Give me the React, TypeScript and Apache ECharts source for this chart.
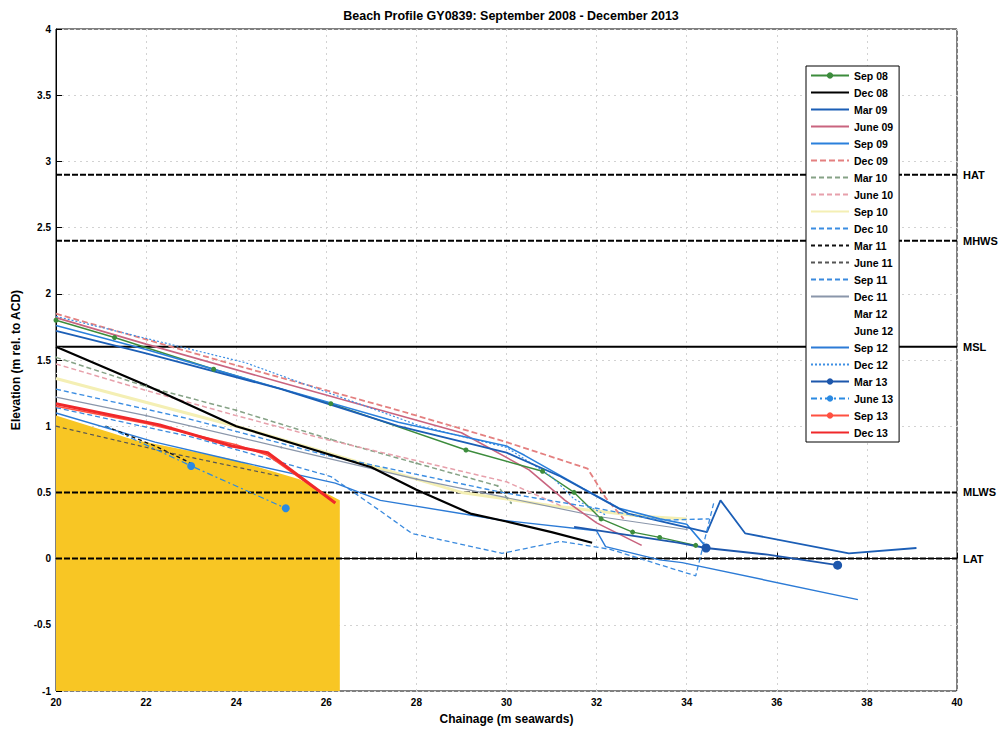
import React, { useEffect, useRef } from 'react';
import * as echarts from 'echarts';

// ---- Data (chainage m, elevation m rel. to ACD) ----
const SEP08 = [[20, 1.8], [21.3, 1.67], [23.5, 1.43], [26.1, 1.17], [29.1, 0.82], [30.8, 0.66], [31.5, 0.5], [32.1, 0.3], [32.8, 0.2], [33.4, 0.16], [34.2, 0.1]];
const DEC08 = [[20, 1.6], [22, 1.31], [24, 1.0], [27, 0.69], [28, 0.52], [29.2, 0.34], [30, 0.28], [31, 0.2], [31.9, 0.12]];
const MAR09 = [[20, 1.72], [22, 1.55], [25, 1.28], [27.6, 1.0], [30, 0.8], [31.2, 0.62], [32.7, 0.34], [34.45, 0.2], [34.75, 0.44], [35.3, 0.19], [37.6, 0.04], [39.1, 0.08]];
const JUN09 = [[20, 1.82], [22, 1.62], [25, 1.33], [29, 0.95], [30.5, 0.67], [31.3, 0.44], [32, 0.27], [33, 0.1]];
const SEP09 = [[20, 1.76], [22, 1.58], [24, 1.38], [27.6, 1.03], [30, 0.85], [30.4, 0.78], [31.7, 0.53], [32.5, 0.38], [33.4, 0.3], [34, 0.26], [34.4, 0.1]];
const DEC09 = [[20, 1.85], [24, 1.46], [27.6, 1.12], [30, 0.88], [31.8, 0.68], [32.2, 0.46], [32.6, 0.3]];
const MAR10 = [[20, 1.52], [22, 1.3], [24, 1.12], [26.1, 0.9], [28, 0.72], [29.8, 0.55], [30.1, 0.42]];
const JUN10 = [[20, 1.47], [22, 1.27], [24, 1.08], [26, 0.9], [28, 0.74], [30, 0.58], [31.2, 0.4]];
const SEP10 = [[20, 1.36], [24, 1.0], [27, 0.7], [29, 0.5], [31, 0.4], [33, 0.32], [34, 0.3]];
const DEC10 = [[20, 1.28], [22.9, 1.06], [26, 0.78], [29.9, 0.5], [32, 0.38], [33.4, 0.29], [34.5, 0.3]];
const MAR11 = [[21.1, 1.0], [22.2, 0.85], [23, 0.72]];
const JUN11 = [[20, 1.0], [22.5, 0.8], [25, 0.62]];
const SEP11 = [[20, 1.14], [23, 0.92], [26.1, 0.62], [27.2, 0.36], [27.9, 0.19], [29.9, 0.04], [31.2, 0.13], [32.3, 0.07], [34.2, -0.13], [34.6, 0.42]];
const DEC11 = [[20, 1.22], [22, 1.08], [25, 0.84], [28, 0.6], [30, 0.46], [32, 0.32], [34, 0.22]];
const MAR12 = [[20, 1.6], [25, 1.2], [30, 0.7], [33, 0.3]];
const JUN12 = [[20, 1.4], [25, 1.0], [30, 0.55], [33, 0.25]];
const SEP12 = [[20, 1.1], [22.2, 0.88], [24.1, 0.73], [26.2, 0.57], [27.2, 0.44], [29.9, 0.29], [32, 0.21], [32.2, 0.09], [33.4, -0.01], [33.9, -0.03], [37.8, -0.31]];
const DEC12 = [[20, 1.83], [24.2, 1.48], [28.1, 1.0], [30, 0.84], [31, 0.62], [31.5, 0.45], [32.2, 0.33]];
const MAR13 = [[31.5, 0.24], [33.8, 0.12], [34.43, 0.08], [35.8, 0.03], [37.35, -0.05]];
const MAR13_MARKS = [2, 4];
const JUN13 = [[21.1, 1.0], [23, 0.7], [25.1, 0.38]];
const JUN13_MARKS = [1, 2];
const SEP13 = [[20, 1.15], [22, 1.02], [24, 0.86], [24.7, 0.78], [26.2, 0.42]];
const DEC13 = [[20, 1.17], [22.3, 1.01], [23.9, 0.85], [24.7, 0.8], [26.2, 0.42]];

const SAND = [[20, 1.08], [21.7, 0.9], [23.9, 0.75], [25.4, 0.6], [26.3, 0.44], [26.3, -1]];

const TIDE_NAMES = ['HAT', 'MHWS', 'MSL', 'MLWS', 'LAT'];
const TIDE_LEVELS = [2.9, 2.4, 1.6, 0.5, 0];

const LEGEND_NAMES = ['Sep 08', 'Dec 08', 'Mar 09', 'June 09', 'Sep 09', 'Dec 09', 'Mar 10', 'June 10', 'Sep 10', 'Dec 10', 'Mar 11', 'June 11', 'Sep 11', 'Dec 11', 'Mar 12', 'June 12', 'Sep 12', 'Dec 12', 'Mar 13', 'June 13', 'Sep 13', 'Dec 13'];
const LEGEND_WITH_MARKER = ['Sep 08', 'Mar 13', 'June 13', 'Sep 13'];

const FONT = '"Liberation Sans", Arial, sans-serif';

function line(name: string, data: any[], color: string, width: number, type: any = 'solid', extra: any = {}) {
  return {
    type: 'line',
    name,
    data,
    symbol: 'none',
    showSymbol: false,
    lineStyle: { color, width, type },
    itemStyle: { color },
    z: 3,
    ...extra,
  };
}

function marked(data: number[][], marks: number[], size: number) {
  return data.map((p, i) => (marks.includes(i) ? { value: p, symbol: 'circle', symbolSize: size } : { value: p, symbol: 'none' }));
}

export default function App() {
  const ref = useRef<HTMLDivElement>(null);
  useEffect(() => {
    if (!ref.current) return;
    const chart = echarts.init(ref.current, undefined, { renderer: 'svg' });
    const series: any[] = [
      {
        type: 'line',
        name: 'sand',
        data: SAND,
        symbol: 'none',
        lineStyle: { width: 0 },
        areaStyle: { color: '#f8c624', opacity: 1, origin: 'start' },
        itemStyle: { color: '#f8c624' },
        z: 1,
        silent: true,
      },
      ...TIDE_NAMES.map((n, i) => ({
        type: 'line',
        name: n,
        data: [[20, TIDE_LEVELS[i]], [40, TIDE_LEVELS[i]]],
        symbol: 'none',
        lineStyle: { color: '#000', width: 2, type: n === 'MSL' ? 'solid' : [6, 2] },
        itemStyle: { color: '#000' },
        endLabel: { show: true, formatter: n, color: '#000', fontWeight: 'bold', fontSize: 11, fontFamily: FONT, distance: 6 },
        z: 2,
        silent: true,
      })),
      line('Mar 12', MAR12, '#ffffff', 1, 'solid', { z: 2 }),
      line('June 12', JUN12, '#ffffff', 1, 'solid', { z: 2 }),
      line('Sep 10', SEP10, '#f4efb4', 3),
      line('Dec 11', DEC11, '#8a96aa', 1.2, 'solid', { symbol: 'circle', showSymbol: true, symbolSize: 2 }),
      line('Mar 10', MAR10, '#86a286', 1.5, [5, 3], { symbol: 'circle', showSymbol: true, symbolSize: 2 }),
      line('June 10', JUN10, '#e7a0ab', 1.5, [5, 3]),
      line('Dec 09', DEC09, '#e48080', 1.8, [6, 3]),
      line('June 09', JUN09, '#c9647f', 1.6),
      line('Sep 08', SEP08, '#3c8c3c', 1.4, 'solid', { symbol: 'circle', showSymbol: true, symbolSize: 5 }),
      line('Dec 12', DEC12, '#3d8fe4', 1.2, [2, 2]),
      line('Sep 09', SEP09, '#2a80dc', 1.6),
      line('Mar 09', MAR09, '#1b5eb6', 1.8),
      line('Dec 10', DEC10, '#3b8de2', 1.4, [5, 3]),
      line('Sep 11', SEP11, '#3a8ade', 1.3, [5, 3]),
      line('Sep 12', SEP12, '#2c7bd6', 1.4),
      line('Dec 08', DEC08, '#000000', 2.2),
      line('Mar 11', MAR11, '#111111', 1.4, [4, 3]),
      line('June 11', JUN11, '#555555', 1.2, [4, 3]),
      { ...line('Mar 13', [], '#1d57ac', 1.8), symbol: 'circle', showSymbol: true, data: marked(MAR13, MAR13_MARKS, 9) },
      { ...line('June 13', [], '#2b8ae2', 1.2, [6, 3, 2, 3]), symbol: 'circle', showSymbol: true, data: marked(JUN13, JUN13_MARKS, 8) },
      line('Sep 13', SEP13, '#ff5040', 1.5, 'solid', { symbol: 'circle', showSymbol: false }),
      line('Dec 13', DEC13, '#f0282a', 3),
    ];

    chart.setOption({
      animation: false,
      title: {
        text: 'Beach Profile GY0839: September 2008 - December 2013',
        left: 506,
        textAlign: 'center',
        top: 4,
        textStyle: { fontFamily: FONT, fontWeight: 'bold', fontSize: 12.5, color: '#000' },
      },
      grid: { left: 56, right: 48, top: 29, bottom: 41, show: true, borderColor: '#000', borderWidth: 1, containLabel: false },
      legend: {
        data: LEGEND_NAMES.map((n) => (LEGEND_WITH_MARKER.includes(n) ? { name: n } : { name: n, itemStyle: { opacity: 0 } })),
        orient: 'vertical',
        left: 806,
        top: 66,
        itemWidth: 38,
        itemHeight: 8,
        itemGap: 6,
        padding: [4, 6, 4, 4],
        borderColor: '#000',
        borderWidth: 1,
        backgroundColor: '#fff',
        selectedMode: false,
        textStyle: { fontFamily: FONT, fontWeight: 'bold', fontSize: 10.5, color: '#000' },
      },
      xAxis: {
        type: 'value',
        min: 20,
        max: 40,
        interval: 2,
        name: 'Chainage (m seawards)',
        nameLocation: 'middle',
        nameGap: 22,
        nameTextStyle: { fontFamily: FONT, fontWeight: 'bold', fontSize: 12, color: '#000' },
        axisLine: { show: true, lineStyle: { color: '#000', width: 1 } },
        axisTick: { show: true, inside: true, length: 6, lineStyle: { color: '#000' } },
        axisLabel: { fontFamily: FONT, fontWeight: 'bold', fontSize: 10, color: '#000', margin: 6 },
        splitLine: { show: true, lineStyle: { color: '#d2d2d2', type: [2, 4], width: 1 } },
      },
      yAxis: {
        type: 'value',
        min: -1,
        max: 4,
        interval: 0.5,
        name: 'Elevation (m rel. to ACD)',
        nameLocation: 'middle',
        nameGap: 34,
        nameTextStyle: { fontFamily: FONT, fontWeight: 'bold', fontSize: 12, color: '#000' },
        axisLine: { show: true, lineStyle: { color: '#000', width: 1 } },
        axisTick: { show: true, inside: true, length: 6, lineStyle: { color: '#000' } },
        axisLabel: { fontFamily: FONT, fontWeight: 'bold', fontSize: 10, color: '#000', margin: 5 },
        splitLine: { show: true, lineStyle: { color: '#d2d2d2', type: [2, 4], width: 1 } },
      },
      series,
    });
    return () => chart.dispose();
  }, []);

  return (
    <div style={{ position: 'absolute', left: 0, top: 0, width: 1005, height: 732, background: '#fff' }}>
      <div ref={ref} style={{ width: 1005, height: 732 }} />
    </div>
  );
}
